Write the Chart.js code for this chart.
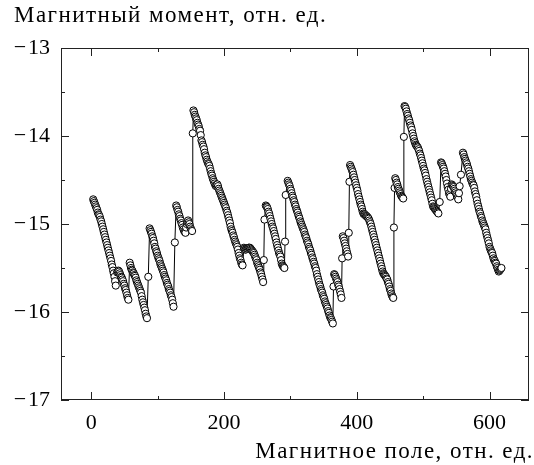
<!DOCTYPE html>
<html>
<head>
<meta charset="utf-8">
<script src="https://cdn.jsdelivr.net/npm/chart.js@4/dist/chart.umd.min.js"></script>
<style>
  html, body { margin: 0; padding: 0; background: #fff; }
  #wrap { width: 534px; height: 465px; position: relative; }
</style>
</head>
<body>
<div id="wrap"><canvas id="c" width="534" height="465"></canvas></div>
<script>
// Magnetic field (x), arbitrary units
const fieldValues = [
  3,4,5,6,7,8,9,10,11,12,13,14,15,16,17,18,19,20,21,22,23,24,25,26,27,28,29,30,31,32,33,34,35,36,37,
  39,40,41,42,43,44,45,46,47,48,49,50,51,52,53,54,55,56,
  58,59,60,61,62,63,64,65,66,67,68,69,70,71,72,73,74,75,76,77,78,79,80,81,82,83,84,
  86,
  88,89,90,91,92,93,94,95,96,97,98,99,100,101,102,103,104,105,106,107,108,109,110,111,112,113,114,115,116,117,118,119,120,121,122,123,124,
  126,
  128,129,130,131,132,133,134,135,136,137,138,139,140,141,142,143,144,145,146,147,148,149,150,151,152,
  153,
  154,155,156,157,158,159,160,161,162,163,164,165,166,167,168,169,170,171,172,173,174,175,176,177,178,179,180,181,182,183,
  184,185,186,187,188,189,190,191,192,193,194,195,196,197,198,199,200,201,202,203,204,205,206,207,208,209,210,211,212,213,
  214,215,216,217,218,219,220,221,222,223,224,225,226,227,228,
  230,231,232,233,234,235,236,237,238,239,240,241,242,243,244,245,246,247,248,249,250,251,252,253,254,255,256,257,258,259,260,
  261,
  263,264,265,266,267,268,269,270,271,272,273,274,275,276,277,278,279,280,281,282,283,284,285,286,287,288,289,290,291,
  292,293,
  296,297,298,299,300,301,302,303,304,305,306,307,308,309,310,311,312,313,314,315,316,317,318,319,320,321,322,323,324,325,
  326,327,328,329,330,331,332,333,334,335,336,337,338,339,340,341,342,343,344,345,346,347,348,349,350,351,352,353,354,355,
  356,357,358,359,360,361,362,363,364,
  365,366,367,368,369,370,371,372,373,374,375,376,377,
  378,
  379,380,381,382,383,384,385,386,387,
  388,389,
  390,391,392,393,394,395,396,397,398,399,400,401,402,403,404,405,406,407,408,409,410,411,412,413,414,415,416,417,418,419,
  420,421,422,423,424,425,426,427,428,429,430,431,432,433,434,435,436,437,438,439,440,441,442,443,444,445,446,447,448,449,
  450,451,452,453,454,455,
  456,457,
  458,459,460,461,462,463,464,465,466,467,468,469,470,
  471,
  472,473,474,475,476,477,478,479,480,481,482,483,484,485,486,487,488,489,490,491,492,493,494,495,496,497,498,499,500,501,
  502,503,504,505,506,507,508,509,510,511,512,513,514,515,516,517,518,519,520,521,522,523,
  525,
  527,528,529,530,531,532,533,534,535,536,537,538,539,540,541,542,543,544,545,546,547,548,549,550,551,552,553,554,555,
  557,
  560,561,562,563,564,565,566,567,568,569,570,571,572,573,574,575,576,577,578,579,580,581,582,583,584,585,586,587,588,589,
  590,591,592,593,594,595,596,597,598,599,600,601,602,603,604,605,606,607,608,609,610,611,612,613,614,615,616,617,618
];
// Magnetic moment (y), arbitrary units
const momentValues = [
  -14.72,-14.74,-14.76,-14.78,-14.80,-14.82,-14.84,-14.87,-14.89,-14.90,-14.92,-14.95,-14.97,-15.00,-15.03,-15.06,-15.09,-15.12,-15.15,-15.18,
  -15.21,-15.24,-15.27,-15.30,-15.33,-15.36,-15.39,-15.42,-15.46,-15.49,-15.53,-15.56,-15.60,-15.65,-15.70,
  -15.55,-15.54,-15.53,-15.54,-15.56,-15.58,-15.60,-15.61,-15.63,-15.65,-15.68,-15.70,-15.73,-15.75,-15.78,-15.81,-15.84,-15.86,
  -15.44,-15.47,-15.50,-15.52,-15.53,-15.55,-15.56,-15.58,-15.59,-15.61,-15.64,-15.66,-15.68,-15.70,-15.72,-15.74,-15.76,-15.78,-15.82,-15.86,
  -15.89,-15.92,-15.95,-15.98,-16.02,-16.05,-16.07,
  -15.60,
  -15.05,-15.07,-15.09,-15.11,-15.14,-15.16,-15.19,-15.22,-15.26,-15.28,-15.31,-15.33,-15.36,-15.38,-15.40,-15.42,-15.45,-15.47,-15.49,-15.51,
  -15.53,-15.55,-15.58,-15.60,-15.62,-15.64,-15.67,-15.69,-15.71,-15.74,-15.76,-15.78,-15.81,-15.83,-15.86,-15.90,-15.94,
  -15.21,
  -14.79,-14.81,-14.84,-14.86,-14.89,-14.91,-14.94,-14.96,-14.99,-15.01,-15.04,-15.06,-15.08,-15.09,-15.10,-15.04,-15.00,-14.98,-14.96,-14.98,
  -15.00,-15.03,-15.05,-15.07,-15.08,
  -13.97,
  -13.71,-13.73,-13.76,-13.78,-13.80,-13.82,-13.85,-13.87,-13.89,-13.92,-13.94,-13.99,-14.05,-14.07,-14.10,-14.12,-14.15,-14.19,-14.22,-14.24,
  -14.27,-14.29,-14.31,-14.32,-14.34,-14.37,-14.40,-14.43,-14.45,-14.48,
  -14.50,-14.52,-14.54,-14.56,-14.57,-14.56,-14.55,-14.57,-14.60,-14.62,-14.64,-14.66,-14.68,-14.70,-14.72,-14.74,-14.76,-14.78,-14.80,-14.82,
  -14.85,-14.87,-14.90,-14.93,-14.96,-14.99,-15.03,-15.06,-15.08,-15.10,
  -15.13,-15.15,-15.18,-15.20,-15.22,-15.24,-15.26,-15.29,-15.33,-15.36,-15.39,-15.41,-15.44,-15.46,-15.47,
  -15.27,-15.28,-15.29,-15.29,-15.28,-15.28,-15.28,-15.27,-15.27,-15.27,-15.28,-15.29,-15.30,-15.31,-15.32,-15.33,-15.35,-15.37,-15.39,-15.41,
  -15.44,-15.46,-15.48,-15.50,-15.52,-15.55,-15.57,-15.60,-15.63,-15.66,-15.41,
  -14.95,
  -14.79,-14.80,-14.81,-14.83,-14.86,-14.88,-14.91,-14.94,-14.97,-15.00,-15.03,-15.05,-15.08,-15.11,-15.14,-15.17,-15.21,-15.24,-15.27,-15.30,
  -15.33,-15.35,-15.37,-15.41,-15.45,-15.47,-15.48,-15.49,-15.50,
  -15.20,-14.67,
  -14.51,-14.53,-14.55,-14.57,-14.60,-14.62,-14.65,-14.68,-14.70,-14.73,-14.75,-14.78,-14.80,-14.83,-14.85,-14.87,-14.90,-14.92,-14.94,-14.97,
  -14.99,-15.01,-15.03,-15.05,-15.07,-15.09,-15.12,-15.14,-15.16,-15.19,
  -15.21,-15.23,-15.26,-15.28,-15.30,-15.33,-15.35,-15.38,-15.40,-15.43,-15.45,-15.48,-15.50,-15.53,-15.57,-15.60,-15.63,-15.66,-15.69,-15.71,
  -15.74,-15.76,-15.78,-15.81,-15.83,-15.85,-15.88,-15.90,-15.92,-15.94,
  -15.96,-15.99,-16.01,-16.04,-16.06,-16.07,-16.09,-16.11,-16.13,
  -15.71,-15.57,-15.58,-15.60,-15.62,-15.64,-15.66,-15.69,-15.71,-15.74,-15.77,-15.80,-15.84,
  -15.39,
  -15.14,-15.16,-15.19,-15.22,-15.25,-15.28,-15.31,-15.34,-15.37,
  -15.10,-14.52,
  -14.33,-14.35,-14.37,-14.39,-14.41,-14.44,-14.47,-14.50,-14.53,-14.56,-14.59,-14.62,-14.66,-14.69,-14.72,-14.75,-14.78,-14.80,-14.83,-14.86,
  -14.88,-14.89,-14.89,-14.90,-14.91,-14.91,-14.92,-14.93,-14.94,-14.96,
  -14.98,-15.00,-15.03,-15.06,-15.09,-15.12,-15.15,-15.18,-15.21,-15.24,-15.27,-15.30,-15.33,-15.36,-15.39,-15.42,-15.45,-15.48,-15.51,-15.54,
  -15.56,-15.57,-15.58,-15.59,-15.60,-15.62,-15.63,-15.66,-15.68,-15.71,
  -15.74,-15.76,-15.79,-15.81,-15.83,-15.84,
  -15.04,-14.59,
  -14.48,-14.50,-14.53,-14.55,-14.58,-14.60,-14.62,-14.64,-14.66,-14.68,-14.69,-14.70,-14.71,
  -14.01,
  -13.66,-13.67,-13.69,-13.72,-13.75,-13.77,-13.80,-13.82,-13.85,-13.88,-13.90,-13.93,-13.97,-14.00,-14.03,-14.06,-14.08,-14.10,-14.11,-14.12,
  -14.13,-14.15,-14.17,-14.20,-14.22,-14.25,-14.28,-14.31,-14.34,-14.37,
  -14.39,-14.42,-14.45,-14.49,-14.52,-14.55,-14.58,-14.61,-14.64,-14.67,-14.70,-14.73,-14.77,-14.80,-14.81,-14.82,-14.83,-14.84,-14.85,-14.86,
  -14.87,-14.88,
  -14.75,
  -14.30,-14.31,-14.33,-14.35,-14.37,-14.40,-14.43,-14.46,-14.50,-14.54,-14.58,-14.61,-14.65,-14.67,-14.69,-14.60,-14.55,-14.56,-14.57,-14.58,
  -14.60,-14.62,-14.64,-14.66,-14.68,-14.70,-14.72,-14.65,-14.57,
  -14.44,
  -14.19,-14.21,-14.24,-14.26,-14.28,-14.30,-14.32,-14.35,-14.37,-14.40,-14.43,-14.46,-14.49,-14.51,-14.53,-14.55,-14.56,-14.59,-14.63,-14.66,
  -14.69,-14.73,-14.77,-14.80,-14.83,-14.86,-14.88,-14.91,-14.93,-14.96,
  -14.98,-15.00,-15.02,-15.04,-15.06,-15.10,-15.13,-15.16,-15.19,-15.22,-15.26,-15.28,-15.30,-15.32,-15.33,-15.36,-15.39,-15.41,-15.42,-15.44,
  -15.45,-15.48,-15.50,-15.52,-15.54,-15.53,-15.52,-15.51,-15.50
];

const xTicks = [0, 200, 400, 600];
const xMinorTicks = [100, 300, 500];
const yTicks = [-17, -16, -15, -14, -13];
const yMinorTicks = [-16.5, -15.5, -14.5, -13.5];
const yTitle = 'Магнитный момент, отн. ед.';
const xTitle = 'Магнитное поле, отн. ед.';

const FONT = '"Liberation Serif", "Times New Roman", serif';

if (fieldValues.length !== momentValues.length) {
  console.warn('length mismatch', fieldValues.length, momentValues.length);
}
const n = Math.min(fieldValues.length, momentValues.length);
const points = [];
for (let i = 0; i < n; i++) points.push({ x: fieldValues[i], y: momentValues[i] });

const framePlugin = {
  id: 'framePlugin',
  afterDraw(chart) {
    const ctx = chart.ctx;
    const xs = chart.scales.x, ys = chart.scales.y;
    const { left, right, top, bottom } = chart.chartArea;
    ctx.save();
    ctx.strokeStyle = '#222';
    ctx.lineWidth = 1;
    ctx.strokeRect(left + 0.5, top + 0.5, right - left - 1, bottom - top - 1);
    ctx.beginPath();
    const drawX = (v, len) => {
      const p = Math.round(xs.getPixelForValue(v)) + 0.5;
      ctx.moveTo(p, bottom); ctx.lineTo(p, bottom - len);
      ctx.moveTo(p, top); ctx.lineTo(p, top + len);
    };
    const drawY = (v, len) => {
      const p = Math.round(ys.getPixelForValue(v)) + 0.5;
      ctx.moveTo(left, p); ctx.lineTo(left + len, p);
      ctx.moveTo(right, p); ctx.lineTo(right - len, p);
    };
    xTicks.forEach(v => drawX(v, 8));
    xMinorTicks.forEach(v => drawX(v, 4));
    yTicks.forEach(v => drawY(v, 8));
    yMinorTicks.forEach(v => drawY(v, 4));
    ctx.stroke();

    ctx.fillStyle = '#000';
    ctx.font = '23px ' + FONT;
    try { ctx.letterSpacing = '1.45px'; } catch (e) {}
    ctx.textBaseline = 'middle';
    ctx.textAlign = 'left';
    ctx.fillText(yTitle, 14, 16);
    ctx.textAlign = 'right';
    ctx.fillText(xTitle, 534, 452);
    ctx.restore();
  }
};

const fmt = v => (v < 0 ? '\u2212\u200A' + Math.abs(v) : String(v));

new Chart(document.getElementById('c'), {
  type: 'scatter',
  data: {
    datasets: [{
      data: points,
      showLine: true,
      borderColor: '#000',
      borderWidth: 1,
      pointRadius: 3.6,
      pointBorderWidth: 1,
      pointBackgroundColor: '#fff',
      pointBorderColor: '#000',
      tension: 0
    }]
  },
  options: {
    responsive: false,
    animation: false,
    devicePixelRatio: 1,
    layout: { padding: { top: 48, left: 0, right: 1, bottom: 0 } },
    plugins: { legend: { display: false }, tooltip: { enabled: false }, title: { display: false } },
    scales: {
      x: {
        type: 'linear',
        min: -45.5,
        max: 659.5,
        grid: { display: false, drawTicks: false, tickLength: 0 },
        border: { display: false },
        afterBuildTicks: s => { s.ticks = xTicks.map(v => ({ value: v })); },
        afterFit: s => { s.height = 65; },
        ticks: { color: '#000', padding: 10, maxRotation: 0, font: { family: FONT, size: 22 }, callback: v => fmt(v) }
      },
      y: {
        type: 'linear',
        min: -17,
        max: -13,
        grid: { display: false, drawTicks: false, tickLength: 0 },
        border: { display: false },
        afterBuildTicks: s => { s.ticks = yTicks.map(v => ({ value: v })); },
        afterFit: s => { s.width = 61; },
        ticks: { color: '#000', padding: 11, font: { family: FONT, size: 22 }, callback: v => fmt(v) }
      }
    }
  },
  plugins: [framePlugin]
});
</script>
</body>
</html>
